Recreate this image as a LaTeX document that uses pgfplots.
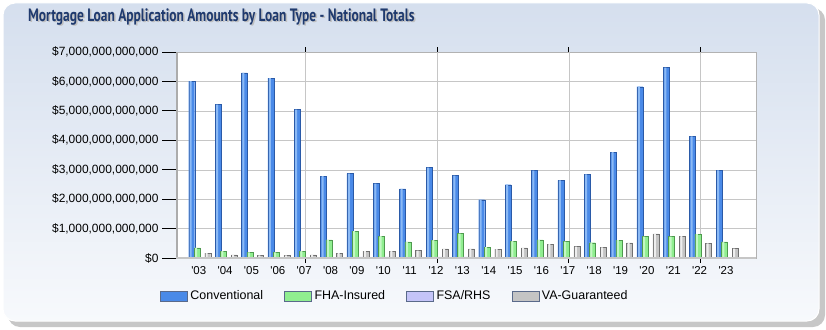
\documentclass[border=0pt]{standalone}
\usepackage{pgfplots}
\usepackage{pgfplotstable}
\pgfplotsset{compat=1.18}
\usepackage{fontspec}
\setmainfont{Liberation Sans}
\newfontfamily\titlefont{PT Sans}[FakeStretch=0.75]
\definecolor{titlec}{HTML}{1F3A6E}
\definecolor{bgtop}{HTML}{D5DFEE}
\definecolor{bgbot}{HTML}{F7F9FC}
\definecolor{convM}{HTML}{8CBAF5}
\definecolor{convD}{HTML}{2A5AA8}
\definecolor{convF}{HTML}{4A8AE8}
\definecolor{fhaM}{HTML}{C4F8C4}
\definecolor{fhaD}{HTML}{4E9A4E}
\definecolor{fhaF}{HTML}{90EE90}
\definecolor{fsaM}{HTML}{E4E4FF}
\definecolor{fsaD}{HTML}{6A6AA8}
\definecolor{fsaF}{HTML}{C4C4F8}
\definecolor{vaM}{HTML}{EEEEEE}
\definecolor{vaD}{HTML}{707070}
\definecolor{vaF}{HTML}{C4C4C4}
\definecolor{legbd}{HTML}{5A6A8A}
\pgfplotstableread{
x conv fha fsa va
0 6.01 0.34 0.03 0.17
1 5.21 0.23 0.03 0.11
2 6.29 0.19 0.03 0.09
3 6.11 0.19 0.03 0.09
4 5.04 0.23 0.03 0.11
5 2.78 0.62 0.03 0.17
6 2.87 0.91 0.04 0.23
7 2.53 0.74 0.04 0.23
8 2.35 0.55 0.04 0.25
9 3.07 0.61 0.04 0.31
10 2.80 0.83 0.04 0.31
11 1.98 0.37 0.03 0.30
12 2.49 0.57 0.03 0.34
13 2.97 0.62 0.03 0.47
14 2.64 0.56 0.03 0.39
15 2.84 0.52 0.03 0.36
16 3.60 0.61 0.03 0.51
17 5.82 0.73 0.03 0.82
18 6.47 0.73 0.03 0.74
19 4.13 0.81 0.03 0.50
20 2.98 0.55 0.03 0.32
}\loandata
\begin{document}
\begin{tikzpicture}[x=1bp,y=1bp]
\useasboundingbox (0,0) rectangle (826,329);
\fill[black!22, rounded corners=12bp] (8,2) rectangle (825,321);
\shade[top color=bgtop, bottom color=bgbot, rounded corners=12bp, draw=white, line width=1bp] (3,8) rectangle (819,326);
\node[anchor=base west, inner sep=0pt, text=black!25, font=\titlefont\bfseries\fontsize{18}{20}\selectfont] at (29.5,306.5) {Mortgage Loan Application Amounts by Loan Type - National Totals};
\node[anchor=base west, inner sep=0pt, text=titlec, font=\titlefont\bfseries\fontsize{18}{20}\selectfont] at (28,308) {Mortgage Loan Application Amounts by Loan Type - National Totals};
\begin{axis}[
  at={(176bp,71bp)}, anchor=south west,
  width=580bp, height=206bp, scale only axis,
  xmin=-0.9, xmax=21.1, ymin=0, ymax=7,
  axis background/.style={fill=white},
  axis line style={gray!60},
  ytick={0,1,2,3,4,5,6,7},
  yticklabels={\$0,{\$1,000,000,000,000},{\$2,000,000,000,000},{\$3,000,000,000,000},{\$4,000,000,000,000},{\$5,000,000,000,000},{\$6,000,000,000,000},{\$7,000,000,000,000}},
  ymajorgrids, grid style={gray!45},
  ytick style={black, line width=0.8bp},
  ytick pos=left,
  tick align=outside,
  major tick length=14bp,
  yticklabel style={font=\fontsize{12}{13}\selectfont, text=black, xshift=0bp},
  xtick={0,...,20},
  xticklabels={\textquotesingle03,\textquotesingle04,\textquotesingle05,\textquotesingle06,\textquotesingle07,\textquotesingle08,\textquotesingle09,\textquotesingle10,\textquotesingle11,\textquotesingle12,\textquotesingle13,\textquotesingle14,\textquotesingle15,\textquotesingle16,\textquotesingle17,\textquotesingle18,\textquotesingle19,\textquotesingle20,\textquotesingle21,\textquotesingle22,\textquotesingle23},
  xtick style={draw=none},
  xticklabel style={font=\fontsize{11.5}{12}\selectfont, text=black, xshift=-1bp, yshift=9bp},
  extra x ticks={4,9,14,19},
  extra x tick labels={},
  extra x tick style={grid=major, major grid style={gray!45}, xtick style={draw=black, line width=0.8bp}, major tick length=5bp},
  legend style={at={(-0.033,-0.185)}, anchor=west, legend columns=-1, draw=none, fill=none,
     font=\fontsize{12.5}{13}\selectfont, nodes={inner xsep=3bp},
     /tikz/every even column/.style={column sep=18bp}},
  legend image code/.code={\draw[#1] (0bp,-5bp) rectangle (27bp,5bp);},
]
\addlegendimage{fill=convF, draw=legbd}
\addlegendentry{Conventional}
\addlegendimage{fill=fhaF, draw=legbd}
\addlegendentry{FHA-Insured}
\addlegendimage{fill=fsaF, draw=legbd}
\addlegendentry{FSA/RHS}
\addlegendimage{fill=vaF, draw=legbd}
\addlegendentry{VA-Guaranteed}
% bodies
\addplot[ybar, bar width=6bp, bar shift=-8bp, draw=convD, fill=convF, forget plot] table[x=x, y=conv] {\loandata};
\addplot[ybar, bar width=2bp, bar shift=-9bp, draw=none, fill=convM, forget plot] table[x=x, y=conv] {\loandata};
\addplot[ybar, bar width=6bp, bar shift=-2.7bp, draw=fhaD, fill=fhaF, forget plot] table[x=x, y=fha] {\loandata};
\addplot[ybar, bar width=2bp, bar shift=-3.7bp, draw=none, fill=fhaM, forget plot] table[x=x, y=fha] {\loandata};
\addplot[ybar, bar width=6bp, bar shift=2.7bp, draw=fsaD, fill=fsaF, forget plot] table[x=x, y=fsa] {\loandata};
\addplot[ybar, bar width=6bp, bar shift=8bp, draw=vaD, fill=vaF, forget plot] table[x=x, y=va] {\loandata};
\addplot[ybar, bar width=2bp, bar shift=7bp, draw=none, fill=vaM, forget plot] table[x=x, y=va] {\loandata};
\draw[gray!65, line width=3bp] (rel axis cs:0,0) -- (rel axis cs:0,1);
\draw[gray!45, line width=3bp] (rel axis cs:0,0) -- (rel axis cs:1,0);
\end{axis}
\end{tikzpicture}
\end{document}
